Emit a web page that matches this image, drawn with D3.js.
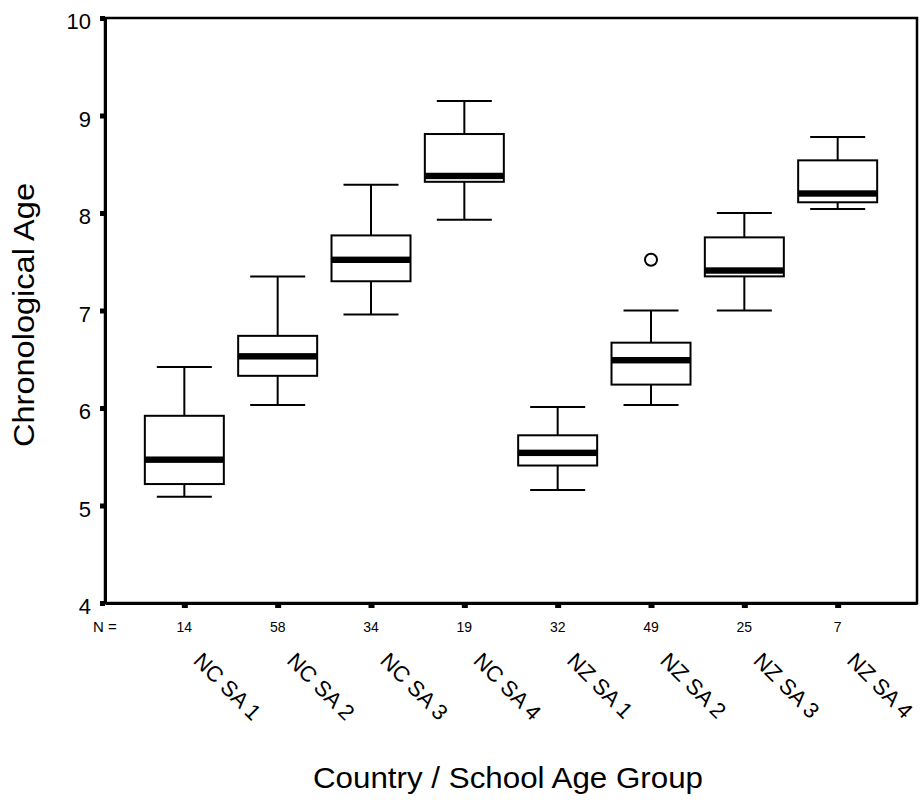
<!DOCTYPE html>
<html>
<head>
<meta charset="utf-8">
<script src="https://cdn.jsdelivr.net/npm/d3@7"></script>
<style>
  body { margin: 0; background: #fff; }
  svg { display: block; font-family: "Liberation Sans", Arial, sans-serif; }
</style>
</head>
<body>
<div class="chart"></div>
<script>
// box plot: chronological age by country / school age group

var width = 922;
var height = 804;

var groups = ['NC SA 1', 'NC SA 2', 'NC SA 3', 'NC SA 4', 'NZ SA 1', 'NZ SA 2', 'NZ SA 3', 'NZ SA 4'];
var counts = [14, 58, 34, 19, 32, 49, 25, 7];
var whiskLow = [5.09, 6.03, 6.96, 7.93, 5.16, 6.03, 7.00, 8.04];
var q1 = [5.22, 6.33, 7.30, 8.32, 5.41, 6.24, 7.35, 8.11];
var medians = [5.47, 6.53, 7.52, 8.38, 5.54, 6.49, 7.41, 8.20];
var q3 = [5.92, 6.74, 7.77, 8.81, 5.72, 6.67, 7.75, 8.54];
var whiskHigh = [6.42, 7.35, 8.29, 9.15, 6.01, 7.00, 8.00, 8.78];
var outliers = [{group: 'NZ SA 2', value: 7.52}];
var yTicks = [4, 5, 6, 7, 8, 9, 10];

// plot edges (note: "top" is taken by window.top)
var plotLeft = 105, plotRight = 917, plotTop = 18, plotBottom = 603;

var svg = d3.select('.chart').append('svg')
  .attr('width', width)
  .attr('height', height);

var x = d3.scalePoint()
  .domain(groups)
  .range([plotLeft, plotRight])
  .padding(0.85);

var y = d3.scaleLinear()
  .domain([4, 10])
  .range([plotBottom, plotTop]);

var boxW = 79;
var capW = 55;

var data = groups.map(function(g, i) {
  return {group: g, n: counts[i], lo: whiskLow[i], q1: q1[i], med: medians[i], q3: q3[i], hi: whiskHigh[i]};
});

// frame (top + right edges)
svg.append('rect')
  .attr('x', plotLeft).attr('y', plotTop)
  .attr('width', plotRight - plotLeft).attr('height', plotBottom - plotTop)
  .attr('fill', 'none')
  .attr('stroke', '#000')
  .attr('stroke-width', 2.5);

var boxes = svg.selectAll('g.box')
  .data(data)
  .enter().append('g')
  .attr('class', 'box')
  .attr('transform', function(d) { return 'translate(' + x(d.group) + ',0)'; });

// whiskers
boxes.append('line')
  .attr('x1', 0).attr('x2', 0)
  .attr('y1', function(d) { return y(d.hi); })
  .attr('y2', function(d) { return y(d.lo); })
  .attr('stroke', '#000').attr('stroke-width', 2);

boxes.selectAll('line.cap')
  .data(function(d) { return [d.lo, d.hi]; })
  .enter().append('line')
  .attr('class', 'cap')
  .attr('x1', -capW / 2).attr('x2', capW / 2)
  .attr('y1', function(v) { return y(v); })
  .attr('y2', function(v) { return y(v); })
  .attr('stroke', '#000').attr('stroke-width', 2);

boxes.append('rect')
  .attr('x', -boxW / 2)
  .attr('width', boxW)
  .attr('y', function(d) { return y(d.q3); })
  .attr('height', function(d) { return y(d.q1) - y(d.q3); })
  .attr('fill', '#fff')
  .attr('stroke', '#000').attr('stroke-width', 2);

// thick median band
boxes.append('rect')
  .attr('x', -boxW / 2)
  .attr('width', boxW)
  .attr('y', function(d) { return y(d.med) - 3.2; })
  .attr('height', 6.4)
  .attr('fill', '#000');

svg.selectAll('circle.outlier')
  .data(outliers)
  .enter().append('circle')
  .attr('class', 'outlier')
  .attr('cx', function(d) { return x(d.group); })
  .attr('cy', function(d) { return y(d.value); })
  .attr('r', 6)
  .attr('fill', 'none')
  .attr('stroke', '#000').attr('stroke-width', 2);

// y axis
var yAxis = svg.append('g')
  .attr('transform', 'translate(' + plotLeft + ',0)')
  .call(d3.axisLeft(y).tickValues(yTicks).tickFormat(d3.format('d'))
    .tickSize(5).tickSizeOuter(0).tickPadding(9));
yAxis.select('.domain').attr('stroke-width', 3);
yAxis.selectAll('.tick line').attr('stroke-width', 5);
yAxis.selectAll('.tick text')
  .attr('font-size', 22)
  .attr('font-family', '"Liberation Sans", Arial, sans-serif')
  .attr('dy', '0.48em')
  .attr('fill', '#000');

// x axis
var xAxis = svg.append('g')
  .attr('transform', 'translate(0,' + plotBottom + ')')
  .call(d3.axisBottom(x).tickSize(5).tickSizeOuter(0).tickFormat(''));
xAxis.select('.domain').attr('stroke-width', 3);
xAxis.selectAll('.tick line').attr('stroke-width', 6);

// N counts
svg.append('text')
  .attr('x', plotLeft).attr('y', 632)
  .attr('text-anchor', 'middle')
  .attr('font-size', 15)
  .text('N =');

svg.selectAll('text.n')
  .data(data)
  .enter().append('text')
  .attr('class', 'n')
  .attr('x', function(d) { return x(d.group); })
  .attr('y', 632)
  .attr('text-anchor', 'middle')
  .attr('font-size', 14)
  .text(function(d) { return d.n; });

// rotated group labels
svg.selectAll('text.cat')
  .data(groups)
  .enter().append('text')
  .attr('class', 'cat')
  .attr('font-size', 22)
  .attr('transform', function(g) { return 'translate(' + (x(g) + 8) + ',662) rotate(45)'; })
  .text(function(g) { return g; });

svg.append('text')
  .attr('transform', 'translate(34,315) rotate(-90)')
  .attr('text-anchor', 'middle')
  .attr('font-size', 29)
  .attr('textLength', 264)
  .attr('lengthAdjust', 'spacingAndGlyphs')
  .text('Chronological Age');

svg.append('text')
  .attr('x', 508).attr('y', 788)
  .attr('text-anchor', 'middle')
  .attr('font-size', 29)
  .attr('textLength', 390)
  .attr('lengthAdjust', 'spacingAndGlyphs')
  .text('Country / School Age Group');
</script>
</body>
</html>
